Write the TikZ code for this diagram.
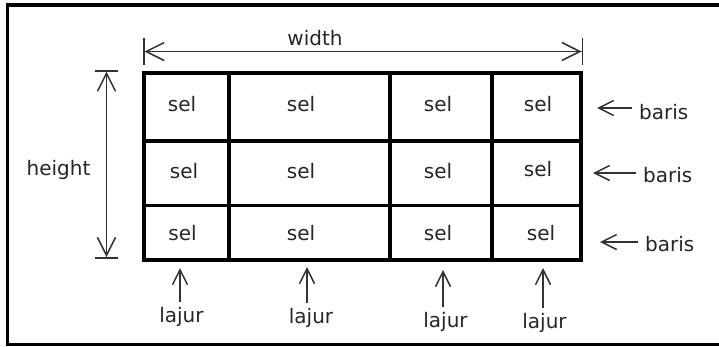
\documentclass[tikz,border=0pt]{standalone}
\usepackage{fontspec}
\setmainfont{DejaVu Sans}
\usetikzlibrary{arrows.meta}
\tikzset{
  gridline/.style={line width=3.5pt, line cap=rect},
  pointer/.style={line width=1.5pt, draw=black!80, -{Straight Barb[length=15pt,width=15pt]}},
  dimension/.style={line width=1.5pt, draw=black!80,
    {Bar[width=#1]Straight Barb[length=18pt,width=18pt]}-{Straight Barb[length=18pt,width=18pt]Bar[width=#1]}},
  cell/.style={inner sep=0pt, text=black!85},
  rowlabel/.style={inner sep=0pt, inner xsep=7pt, text=black!85},
  collabel/.style={inner sep=0pt, inner ysep=5pt, text=black!85},
}
\begin{document}
\begin{tikzpicture}[x=1pt,y=-1pt]
                        \useasboundingbox (0,0) rectangle (719.000000,346.000000);
                        \clip (0,0) rectangle (719.000000,346.000000);
                        {\fontsize{20}{24}\selectfont

                        % Drawing frame
                        \draw [line width=3.5pt] (7.500000,5.000000) rectangle (730.000000,344.500000);%

                        % Drawing table
                        \draw [gridline] (144.000000,73.000000) rectangle (581.000000,260.000000);%
                        \draw [gridline] (144.000000,141.000000) -- (581.000000,141.000000);%
                        \draw [gridline] (144.000000,205.500000) -- (581.000000,205.500000);%
                        \draw [gridline] (229.000000,73.000000) -- (229.000000,260.000000);%
                        \draw [gridline] (390.000000,73.000000) -- (390.000000,260.000000);%
                        \draw [gridline] (492.000000,73.000000) -- (492.000000,260.000000);%

                        % Marking cells of row 1
                        \node [cell] (sel11) at (182.000000,104.500000) { sel };%
                        \node [cell] (sel12) at (301.000000,104.500000) { sel };%
                        \node [cell] (sel13) at (438.000000,104.500000) { sel };%
                        \node [cell] (sel14) at (538.000000,104.500000) { sel };%

                        % Marking cells of row 2
                        \node [cell] (sel21) at (184.000000,171.000000) { sel };%
                        \node [cell] (sel22) at (301.000000,171.000000) { sel };%
                        \node [cell] (sel23) at (438.000000,171.000000) { sel };%
                        \node [cell] (sel24) at (538.000000,169.000000) { sel };%

                        % Marking cells of row 3
                        \node [cell] (sel31) at (182.500000,233.000000) { sel };%
                        \node [cell] (sel32) at (301.000000,233.000000) { sel };%
                        \node [cell] (sel33) at (438.000000,233.000000) { sel };%
                        \node [cell] (sel34) at (541.000000,233.000000) { sel };%

                        % Drawing dimension width
                        \coordinate (wleft) at (143.000000,51.500000);%
                        \coordinate (wright) at (583.000000,51.500000);%
                        \draw [dimension=27pt] (wleft) -- (wright);%
                        \node [cell, anchor=base] (width) at (315.000000,45.000000) { width };%

                        % Drawing dimension height
                        \coordinate (htop) at (106.500000,70.000000);%
                        \coordinate (hbottom) at (106.500000,258.500000);%
                        \draw [dimension=23pt] (htop) -- (hbottom);%
                        \node [cell, anchor=base] (height) at (58.500000,175.000000) { height };%

                        % Marking rows
                        \coordinate (rtip1) at (597.000000,108.000000);%
                        \coordinate (rtip2) at (593.000000,173.000000);%
                        \coordinate (rtip3) at (600.000000,242.000000);%
                        \node [rowlabel, anchor=base west] (baris1) at (632.000000,119.000000) { baris };%
                        \node [rowlabel, anchor=base west] (baris2) at (636.000000,182.000000) { baris };%
                        \node [rowlabel, anchor=base west] (baris3) at (638.000000,251.000000) { baris };%
                        \draw [pointer] (baris1.west |- rtip1) -- (rtip1);%
                        \draw [pointer] (baris2.west |- rtip2) -- (rtip2);%
                        \draw [pointer] (baris3.west |- rtip3) -- (rtip3);%

                        % Marking columns
                        \coordinate (ctip1) at (180.000000,268.000000);%
                        \coordinate (ctip2) at (307.000000,267.000000);%
                        \coordinate (ctip3) at (443.000000,270.000000);%
                        \coordinate (ctip4) at (543.000000,268.000000);%
                        \node [collabel, anchor=base] (lajur1) at (181.500000,322.000000) { lajur };%
                        \node [collabel, anchor=base] (lajur2) at (311.000000,323.000000) { lajur };%
                        \node [collabel, anchor=base] (lajur3) at (445.500000,327.000000) { lajur };%
                        \node [collabel, anchor=base] (lajur4) at (544.500000,328.000000) { lajur };%
                        \draw [pointer] (ctip1 |- lajur1.north) -- (ctip1);%
                        \draw [pointer] (ctip2 |- lajur2.north) -- (ctip2);%
                        \draw [pointer] (ctip3 |- lajur3.north) -- (ctip3);%
                        \draw [pointer] (ctip4 |- lajur4.north) -- (ctip4);%
                        }
\end{tikzpicture}
\end{document}
